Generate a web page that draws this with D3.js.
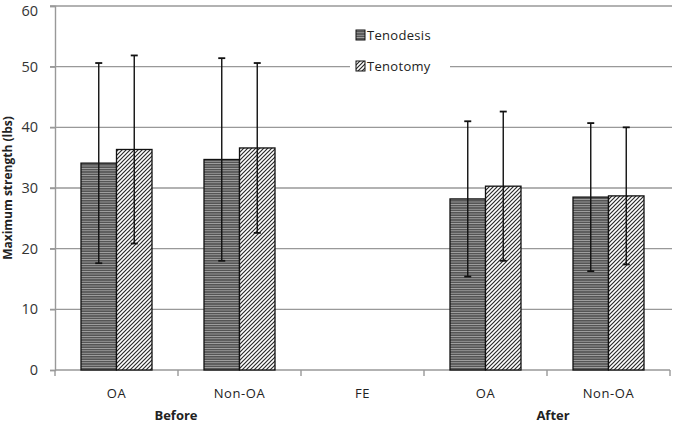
<!DOCTYPE html>
<html><head><meta charset="utf-8">
<script src="https://cdn.jsdelivr.net/npm/d3@7"></script>
<style>body{margin:0;background:#fff}</style>
</head><body>
<svg id="c" width="674" height="425"></svg>
<script>
const categories = ["OA", "Non-OA", "FE", "OA", "Non-OA"];
const groups = [{label: "Before", from: 0, to: 1}, {label: "After", from: 3, to: 4}];
const seriesNames = ["Tenodesis", "Tenotomy"];
const tenodesisMean = [34.1, 34.7, null, 28.2, 28.5];
const tenodesisSD = [16.5, 16.7, null, 12.8, 12.2];
const tenotomyMean = [36.35, 36.6, null, 30.3, 28.7];
const tenotomySD = [15.5, 14.0, null, 12.3, 11.3];
const yTicks = [0, 10, 20, 30, 40, 50, 60];

const svg = d3.select("#c");
const mLeft = 55, mRight = 670, mTop = 6, mBottom = 370;
const font = "'Open Sans', 'Liberation Sans', sans-serif";

const defs = svg.append("defs");
const p1 = defs.append("pattern").attr("id", "hz").attr("patternUnits", "userSpaceOnUse").attr("width", 4).attr("height", 2.4);
p1.append("rect").attr("width", 4).attr("height", 2.4).attr("fill", "#555");
p1.append("rect").attr("y", 0).attr("width", 4).attr("height", 0.8).attr("fill", "#a8a8a8");
const p2 = defs.append("pattern").attr("id", "dg").attr("patternUnits", "userSpaceOnUse").attr("width", 4).attr("height", 4);
p2.append("rect").attr("width", 4).attr("height", 4).attr("fill", "#fff");
p2.append("path").attr("d", "M-1,1 L1,-1 M0,4 L4,0 M3,5 L5,3").attr("stroke", "#2a2a2a").attr("stroke-width", 1.2);

const x = d3.scaleBand().domain(d3.range(categories.length)).range([mLeft, mRight]).paddingInner(0).paddingOuter(0);
const y = d3.scaleLinear().domain([0, 60]).range([mBottom, mTop]);

// gridlines
svg.append("g").selectAll("line").data(yTicks.filter(d => d > 0)).join("line")
  .attr("x1", mLeft - 5).attr("x2", mRight + 2).attr("y1", d => y(d)).attr("y2", d => y(d))
  .attr("stroke", "#999").attr("stroke-width", 1.4);

// y axis
const ya = svg.append("g").attr("transform", `translate(${mLeft},0)`)
  .call(d3.axisLeft(y).tickValues(yTicks).tickSize(5).tickPadding(12));
ya.select(".domain").attr("stroke", "#999").attr("stroke-width", 1.4);
ya.selectAll(".tick line").attr("stroke", "#999").attr("stroke-width", 1.4);
ya.selectAll("text").attr("font-family", font).attr("font-size", 14.5).attr("fill", "#333")
  .attr("dy", (d) => d === 60 ? "0.62em" : "0.32em");

// x axis
const xa = svg.append("g").attr("transform", `translate(0,${mBottom})`);
xa.append("line").attr("x1", mLeft).attr("x2", mRight).attr("stroke", "#999").attr("stroke-width", 1.4);
xa.selectAll("line.t").data(d3.range(categories.length + 1)).join("line").attr("class", "t")
  .attr("x1", i => mLeft + i * x.bandwidth()).attr("x2", i => mLeft + i * x.bandwidth())
  .attr("y1", 0).attr("y2", 6).attr("stroke", "#999").attr("stroke-width", 1.4);
xa.selectAll("text").data(categories).join("text")
  .attr("x", (d, i) => x(i) + x.bandwidth() / 2).attr("y", 28)
  .attr("text-anchor", "middle").attr("font-family", font).attr("font-size", 13).attr("fill", "#222")
  .attr("letter-spacing", 0.6).text(d => d);
const groupNudge = {Before: -2, After: 6};
svg.append("g").selectAll("text").data(groups).join("text")
  .attr("x", g => (x(g.from) + x(g.to) + x.bandwidth()) / 2 + groupNudge[g.label]).attr("y", 420)
  .attr("text-anchor", "middle").attr("font-family", font).attr("font-size", 13).attr("font-weight", "bold")
  .attr("fill", "#222").text(g => g.label);

// y title
svg.append("text").attr("transform", `translate(12,${(mTop + mBottom) / 2}) rotate(-90)`)
  .attr("text-anchor", "middle").attr("font-family", font).attr("font-size", 12).attr("font-weight", "bold")
  .attr("fill", "#222").text("Maximum strength (lbs)");

// bars
const series = [
  {name: seriesNames[0], mean: tenodesisMean, sd: tenodesisSD, fill: "url(#hz)"},
  {name: seriesNames[1], mean: tenotomyMean, sd: tenotomySD, fill: "url(#dg)"}
];
const bw = 35.5;
series.forEach((s, si) => {
  const g = svg.append("g");
  const data = s.mean.map((m, i) => ({i, m, sd: s.sd[i]})).filter(d => d.m != null);
  const bx = d => x(d.i) + x.bandwidth() / 2 + (si - 1) * bw;
  g.selectAll("rect").data(data).join("rect")
    .attr("x", bx).attr("width", bw).attr("y", d => y(d.m)).attr("height", d => y(0) - y(d.m))
    .attr("fill", s.fill).attr("stroke", "#111").attr("stroke-width", 1.3);
  const cx = d => bx(d) + bw / 2;
  g.selectAll("line.e").data(data).join("line").attr("class", "e")
    .attr("x1", cx).attr("x2", cx).attr("y1", d => y(d.m + d.sd)).attr("y2", d => y(d.m - d.sd))
    .attr("stroke", "#111").attr("stroke-width", 1.4);
  [1, -1].forEach(sg => {
    g.selectAll("line.c" + (sg > 0 ? "u" : "d")).data(data).join("line").attr("class", "c" + (sg > 0 ? "u" : "d"))
      .attr("x1", d => cx(d) - 3.5).attr("x2", d => cx(d) + 3.5)
      .attr("y1", d => y(d.m + sg * d.sd)).attr("y2", d => y(d.m + sg * d.sd))
      .attr("stroke", "#111").attr("stroke-width", 1.8);
  });
});

// legend
const lg = svg.append("g").attr("transform", "translate(350,24)");
lg.append("rect").attr("x", 0).attr("y", 0).attr("width", 100).attr("height", 52).attr("fill", "#fff");
series.forEach((s, i) => {
  const row = lg.append("g").attr("transform", `translate(6,${6 + i * 31})`);
  row.append("rect").attr("width", 9).attr("height", 10).attr("fill", s.fill).attr("stroke", "#111").attr("stroke-width", 1);
  row.append("text").attr("x", 11).attr("y", 10).attr("font-family", font).attr("font-size", 13)
    .attr("fill", "#222").attr("letter-spacing", 0.3).text(s.name);
});
</script>
</body></html>
